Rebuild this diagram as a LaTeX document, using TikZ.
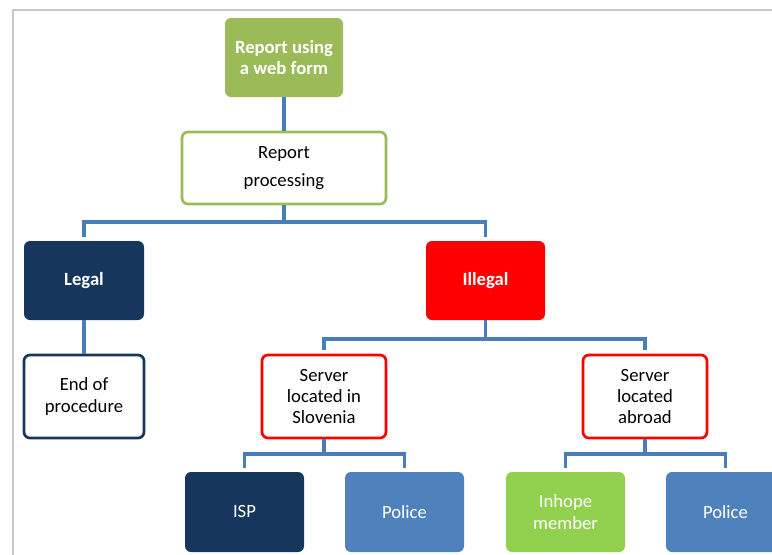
\documentclass[tikz,border=0pt]{standalone}
\usepackage{fontspec}
\setmainfont{Carlito}
\definecolor{webgreen}{HTML}{9BBB59}
\definecolor{navy}{HTML}{17365D}
\definecolor{lineblue}{HTML}{4A7EBB}
\definecolor{policeblue}{HTML}{4F81BD}
\definecolor{inhopegreen}{HTML}{92D050}
\definecolor{frame}{HTML}{C8C8C8}
\begin{document}
\begin{tikzpicture}[x=0.75pt,y=-0.75pt,
  box/.style={rectangle, rounded corners=4.5pt, align=center, inner sep=2pt,
    font=\fontsize{14}{16}\selectfont},
  filled/.style={box, fill=#1, text=white, minimum width=89.25pt, minimum height=59.25pt},
  outlined/.style={box, draw=#1, line width=2pt, fill=white, text=black},
  conn/.style={draw=lineblue, line width=2.3pt, line join=miter}]
\useasboundingbox (0,0) rectangle (772,554);
\clip (0,0) rectangle (772,554);
\draw[frame, line width=1.6pt] (13,560) -- (13,10) -- (780,10);

\node[filled=webgreen, minimum width=88.5pt, font=\fontsize{14}{16}\selectfont\bfseries] (web) at (284,57.5) {Report using\\a web form};
\node[outlined=webgreen, minimum width=153pt, minimum height=54pt] (proc) at (284,168) {Report\\[5pt]processing};
\node[filled=navy, minimum width=90pt, font=\fontsize{14}{16}\selectfont\bfseries] (legal) at (84,280.5) {Legal};
\node[outlined=navy, minimum width=90pt, minimum height=62.25pt] (end) at (84,396.5) {End of\\procedure};
\node[filled=red, font=\fontsize{14}{16}\selectfont\bfseries] (illegal) at (485.5,280.5) {Illegal};
\node[outlined=red, minimum width=93pt, minimum height=62.25pt] (slov) at (324,396.5) {Server\\located in\\Slovenia};
\node[outlined=red, minimum width=93pt, minimum height=62.25pt] (abroad) at (645,396.5) {Server\\located\\abroad};
\node[filled=navy, minimum height=60pt] (isp) at (244.5,512) {ISP};
\node[filled=policeblue, minimum height=60pt] (pol1) at (404.5,512) {Police};
\node[filled=inhopegreen, minimum height=60pt] (inhope) at (565.5,512) {Inhope\\member};
\node[filled=policeblue, minimum height=60pt] (pol2) at (725.5,512) {Police};

\coordinate (b1) at (284,222);
\coordinate (b2) at (485.5,339);
\coordinate (b3) at (324,454);
\coordinate (b4) at (645,454);

\draw[conn] (web.south) -- (proc.north);
\draw[conn] (proc.south) -- (b1);
\draw[conn, shorten <=3pt, shorten >=3pt] (legal.north) -- (legal.north |- b1) -- (illegal.north |- b1) -- (illegal.north);
\draw[conn] (legal.south) -- (end.north);
\draw[conn] (illegal.south) -- (b2);
\draw[conn, shorten <=3pt, shorten >=3pt] (slov.north) -- (slov.north |- b2) -- (abroad.north |- b2) -- (abroad.north);
\draw[conn] (slov.south) -- (b3);
\draw[conn, shorten <=3pt, shorten >=3pt] (isp.north) -- (isp.north |- b3) -- (pol1.north |- b3) -- (pol1.north);
\draw[conn] (abroad.south) -- (b4);
\draw[conn, shorten <=3pt, shorten >=3pt] (inhope.north) -- (inhope.north |- b4) -- (pol2.north |- b4) -- (pol2.north);
\end{tikzpicture}
\end{document}
